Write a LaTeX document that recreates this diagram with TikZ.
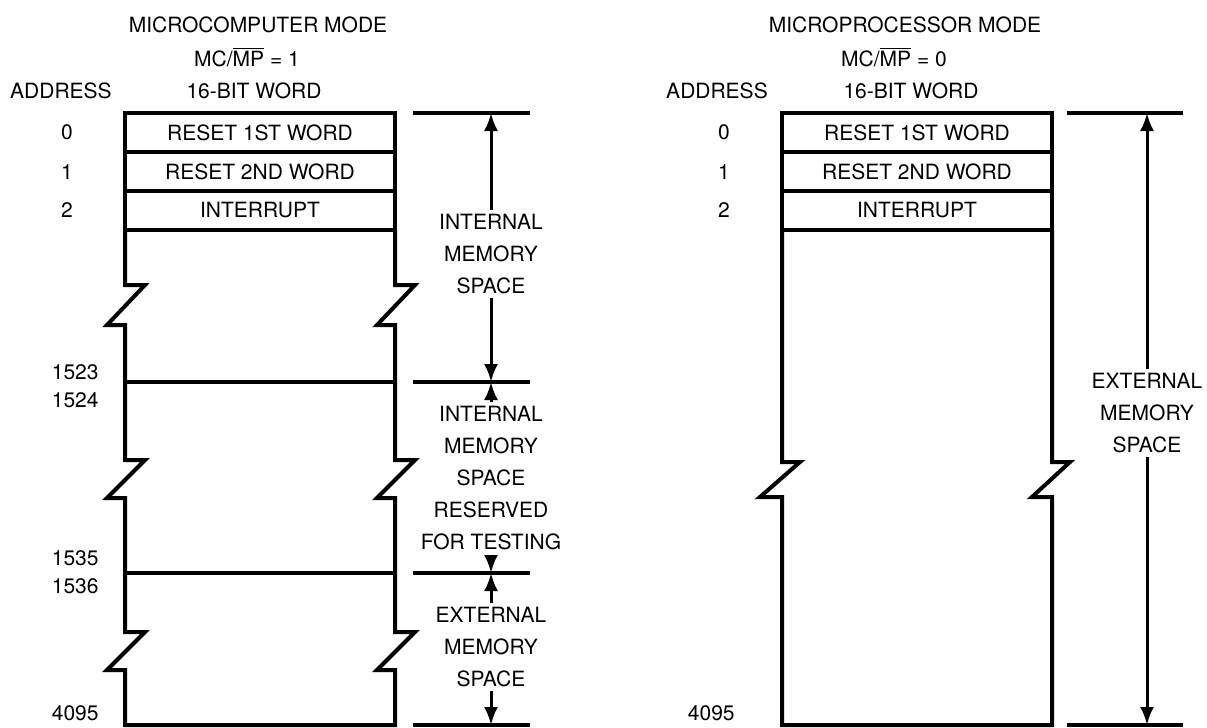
\documentclass[tikz,border=0pt]{standalone}
\usepackage{fontspec}
\setmainfont{TeX Gyre Heros}
\usetikzlibrary{positioning,arrows.meta}

\begin{document}
\begin{tikzpicture}
  [x=.5pt,y=-.5pt,
   every node/.style={font=\fontsize{10.5}{16}\selectfont,inner sep=0pt},
   word/.style={draw,line width=2pt,outer sep=0pt,minimum width=135pt,minimum height=19.5pt},
   wall/.style={line width=2pt,line join=miter},
   tick/.style={line width=1.7pt},
   dim/.style={line width=1.5pt,-{Latex[length=9pt,width=7pt]}},
   lbl/.style={align=center,inner sep=2pt}]
  \useasboundingbox (0,0) rectangle (1207,728);

  \node (t1) at (258,25) {MICROCOMPUTER MODE};
  \node (m1) at (247,57) {MC/$\overline{\mbox{MP}}$ = 1};
  \node (a1) at (61,91) {ADDRESS};
  \node (b1) at (254,91) {16-BIT WORD};

  \node[word] (w10) at (260,132.5) {RESET 1ST WORD};
  \node[word,below=0pt of w10] (w11) {RESET 2ND WORD};
  \node[word,below=0pt of w11] (w12) {INTERRUPT};

  \node (n10) at (67,132) {0};
  \node (n11) at (67,172) {1};
  \node (n12) at (67,210) {2};
  \node[anchor=east] (n1523) at (99,372) {1523};
  \node[anchor=east] (n1524) at (99,400) {1524};
  \node[anchor=east] (n1535) at (99,558) {1535};
  \node[anchor=east] (n1536) at (99,586) {1536};
  \node[anchor=east] (n14095) at (99,713) {4095};

  \draw[wall] (w12.south west) -- (125,285) -- (145,285) -- (107,325) -- (125,325)
    -- (125,460) -- (145,460) -- (107,498) -- (125,498)
    -- (125,632) -- (145,632) -- (107,670) -- (125,670) -- (125,725)
    -- (395,725) -- (395,670) -- (377,670) -- (415,632) -- (395,632)
    -- (395,498) -- (377,498) -- (415,460) -- (395,460)
    -- (395,325) -- (377,325) -- (415,285) -- (395,285) -- (w12.south east);
  \draw[wall] (125,382) -- (395,382);
  \draw[wall] (125,573) -- (395,573);

  \coordinate (p0) at (491,113);
  \coordinate (p1) at (491,382);
  \coordinate (p2) at (491,573);
  \coordinate (p3) at (491,725);
  \draw[tick] (413,113) -- (530,113);
  \draw[tick] (413,382) -- (530,382);
  \draw[tick] (413,573) -- (530,573);
  \draw[tick] (413,725) -- (530,725);

  \node[lbl] (s1) at (491,254) {INTERNAL\\MEMORY\\SPACE};
  \node[lbl] (s2) at (491,478.5) {INTERNAL\\MEMORY\\SPACE\\RESERVED\\FOR TESTING};
  \node[lbl] (s3) at (491,647) {EXTERNAL\\MEMORY\\SPACE};

  \draw[dim] (s1.north) -- (p0);
  \draw[dim] (s1.south) -- (p1);
  \draw[dim] (s2.north) -- (p1);
  \draw[dim] (s2.south) -- (p2);
  \draw[dim] (s3.north) -- (p2);
  \draw[dim] (s3.south) -- (p3);

  \node (t2) at (905,25) {MICROPROCESSOR MODE};
  \node (m2) at (894,57) {MC/$\overline{\mbox{MP}}$ = 0};
  \node (a2) at (717,91) {ADDRESS};
  \node (b2) at (911,91) {16-BIT WORD};

  \node[word] (w20) at (917,132.5) {RESET 1ST WORD};
  \node[word,below=0pt of w20] (w21) {RESET 2ND WORD};
  \node[word,below=0pt of w21] (w22) {INTERRUPT};

  \node (n20) at (724,132) {0};
  \node (n21) at (724,172) {1};
  \node (n22) at (724,210) {2};
  \node[anchor=east] (n24095) at (735,713) {4095};

  \draw[wall] (w22.south west) -- (782,462) -- (800,462) -- (760,497) -- (782,497) -- (782,725)
    -- (1052,725) -- (1052,497) -- (1032,497) -- (1070,462) -- (1052,462) -- (w22.south east);

  \coordinate (q0) at (1147,113);
  \coordinate (q1) at (1147,725);
  \draw[tick] (1067,113) -- (1183,113);
  \draw[tick] (1067,725) -- (1183,725);

  \node[lbl] (s4) at (1147,413) {EXTERNAL\\MEMORY\\SPACE};
  \draw[dim] (s4.north) -- (q0);
  \draw[dim] (s4.south) -- (q1);
\end{tikzpicture}
\end{document}
